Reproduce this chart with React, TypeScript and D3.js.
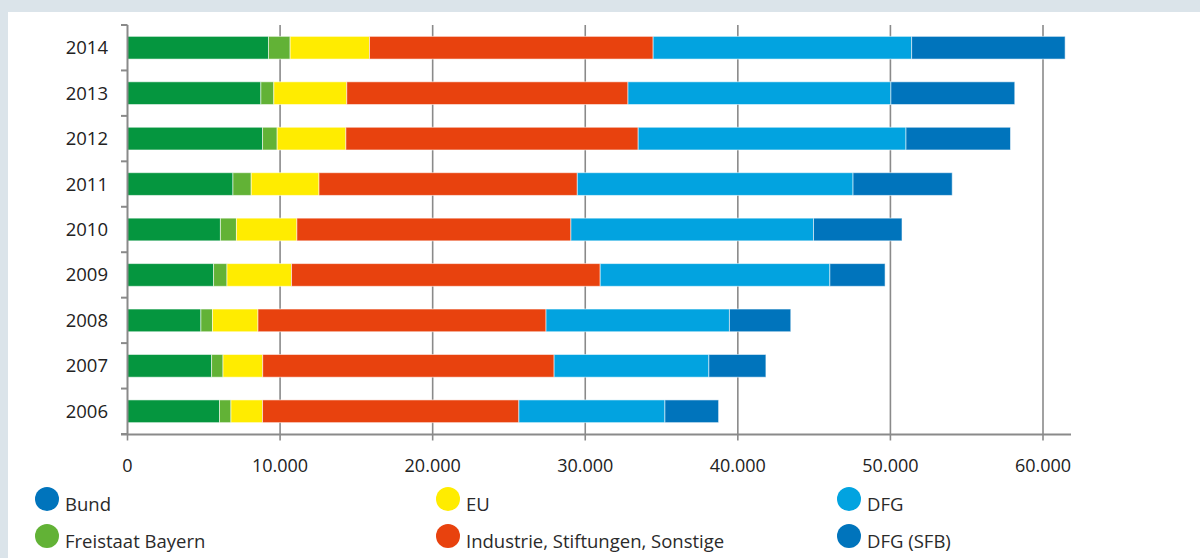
import React from "react";
import * as d3 from "d3";

const years = ["2014", "2013", "2012", "2011", "2010", "2009", "2008", "2007", "2006"];
const seriesNames = ["Bund", "Freistaat Bayern", "EU", "Industrie, Stiftungen, Sonstige", "DFG", "DFG (SFB)"];
const bund = [9240, 8740, 8850, 6910, 6090, 5640, 4810, 5510, 6030];
const bayern = [1420, 850, 960, 1200, 1050, 880, 760, 750, 750];
const eu = [5200, 4780, 4500, 4440, 3960, 4230, 2980, 2600, 2070];
const industrie = [18590, 18430, 19160, 16930, 17960, 20230, 18880, 19100, 16800];
const dfg = [16940, 17230, 17550, 18070, 15900, 15050, 12020, 10140, 9570];
const dfgSfb = [10060, 8120, 6850, 6500, 5800, 3620, 4020, 3740, 3520];
const xTicks = [0, 10000, 20000, 30000, 40000, 50000, 60000];

const barColors = ["#05963f", "#62b236", "#ffec00", "#e8420e", "#02a3e0", "#0074bc"];
const legendColors = ["#0074bc", "#62b236", "#ffec00", "#e8420e", "#02a3e0", "#0074bc"];

const FONT = "'Open Sans', 'Noto Sans', sans-serif";

export default function App() {
  const W = 1200, H = 558;
  const x = d3.scaleLinear().domain([0, 60000]).range([127.5, 1043]);
  const y = d3.scaleBand().domain(years).range([25, 434]).paddingInner(0.5).paddingOuter(0.25);
  const step = y.step();

  const rows = years.map((yr, i) => ({
    year: yr,
    Bund: bund[i],
    "Freistaat Bayern": bayern[i],
    EU: eu[i],
    "Industrie, Stiftungen, Sonstige": industrie[i],
    DFG: dfg[i],
    "DFG (SFB)": dfgSfb[i],
  }));
  const stacked = d3.stack<any>().keys(seriesNames)(rows);

  const fmt = (v: number) => d3.format(",")(v).replace(/,/g, ".");
  const axisColor = "#8a8a8a";

  const boundaries = d3.range(years.length + 1).map((i) => 25 + i * step);

  const legendCols = [47, 448, 849];
  const legendRows = [499, 536];

  return (
    <svg width={W} height={H} style={{ position: "absolute", left: 0, top: 0, display: "block" }}>
      <rect x={0} y={0} width={W} height={H} fill="#dbe4ea" />
      <rect x={8} y={12} width={W - 8} height={H - 12} fill="#ffffff" />

      {/* gridlines */}
      {xTicks.slice(1).map((t) => (
        <line key={"g" + t} x1={x(t)} x2={x(t)} y1={25} y2={434} stroke={axisColor} strokeWidth={1.6} />
      ))}

      {/* bars */}
      {stacked.map((s, si) => (
        <g key={s.key}>
          {s.map((d, di) => (
            <rect
              key={di}
              x={x(d[0])}
              y={y(years[di])}
              width={x(d[1]) - x(d[0])}
              height={y.bandwidth()}
              fill={barColors[si]}
              stroke="rgba(255,255,255,0.55)"
              strokeWidth={1}
            />
          ))}
        </g>
      ))}

      {/* y axis */}
      <line x1={127.5} x2={127.5} y1={25} y2={434.5} stroke={axisColor} strokeWidth={2} />
      {boundaries.map((b, i) => (
        <line key={"yt" + i} x1={121} x2={127.5} y1={b} y2={b} stroke={axisColor} strokeWidth={2} />
      ))}
      {years.map((yr) => (
        <text
          key={"yl" + yr}
          x={108}
          y={(y(yr) as number) + y.bandwidth() / 2}
          dy="0.35em"
          textAnchor="end"
          fontFamily={FONT}
          fontSize={18.5}
          fill="#222"
        >
          {yr}
        </text>
      ))}

      {/* x axis */}
      <line x1={121} x2={1071} y1={434.5} y2={434.5} stroke={axisColor} strokeWidth={2} />
      {xTicks.map((t) => (
        <g key={"xt" + t}>
          <line x1={x(t)} x2={x(t)} y1={434.5} y2={440.5} stroke={axisColor} strokeWidth={1.6} />
          <text x={x(t)} y={472} textAnchor="middle" fontFamily={FONT} fontSize={18} fill="#222">
            {fmt(t)}
          </text>
        </g>
      ))}

      {/* legend */}
      {seriesNames.map((name, i) => {
        const col = Math.floor(i / 2);
        const row = i % 2;
        const cx = legendCols[col];
        const cy = legendRows[row];
        return (
          <g key={"lg" + name}>
            <circle cx={cx} cy={cy} r={12} fill={legendColors[i]} />
            <text x={cx + 18} y={cy + 12} fontFamily={FONT} fontSize={18.5} fill="#2a2a2a">
              {name}
            </text>
          </g>
        );
      })}
    </svg>
  );
}
